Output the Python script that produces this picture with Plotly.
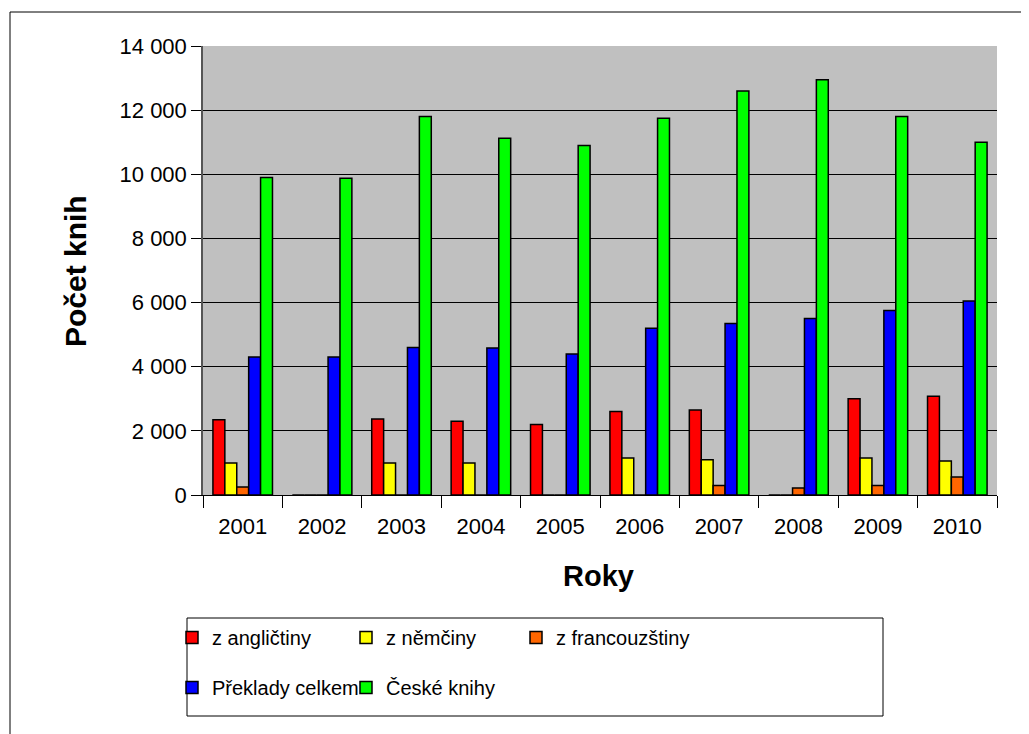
import plotly.graph_objects as go

years = ["2001", "2002", "2003", "2004", "2005", "2006", "2007", "2008", "2009", "2010"]

z_anglictiny = [2350, 0, 2370, 2300, 2200, 2600, 2650, 0, 3000, 3080]
z_nemciny = [1000, 0, 1000, 1000, 0, 1150, 1100, 0, 1150, 1060]
z_francouzstiny = [250, 0, 0, 0, 0, 0, 300, 220, 300, 560]
preklady_celkem = [4300, 4300, 4600, 4580, 4400, 5200, 5350, 5500, 5750, 6050]
ceske_knihy = [9900, 9880, 11800, 11120, 10900, 11750, 12600, 12950, 11800, 11000]

y_ticks = [0, 2000, 4000, 6000, 8000, 10000, 12000, 14000]
y_tick_labels = ["0", "2 000", "4 000", "6 000", "8 000", "10 000", "12 000", "14 000"]

# legend is laid out as three columns: legend / legend2 / legend3
series = [
    ("z angličtiny", z_anglictiny, "#FF0000", "legend"),
    ("z němčiny", z_nemciny, "#FFFF00", "legend2"),
    ("z francouzštiny", z_francouzstiny, "#FF6600", "legend3"),
    ("Překlady celkem", preklady_celkem, "#0000FF", "legend"),
    ("České knihy", ceske_knihy, "#00FF00", "legend2"),
]

FONT = "Liberation Sans, Arial, sans-serif"

fig = go.Figure()
for name, vals, color, leg in series:
    fig.add_trace(go.Bar(
        x=years, y=vals, name=name, legend=leg, legendgroup=name,
        marker=dict(color=color, line=dict(color="black", width=1.5)),
    ))

# plot area is 794 x 449 px; page body adds an 8px margin
W, H = 1021, 726
L, T, PW, PH = 195, 38, 794, 449


def px_x(x):
    # reference-pixel x -> paper x
    return (x - 203) / PW


def px_y(y):
    # reference-pixel y -> paper y
    return (495 - y) / PH


legend_common = dict(
    orientation="v", xanchor="left", yanchor="top",
    font=dict(size=20), bgcolor="rgba(0,0,0,0)", tracegroupgap=21,
)

fig.update_layout(
    width=W, height=H,
    margin=dict(l=L, r=W - L - PW, t=T, b=H - T - PH),
    paper_bgcolor="white",
    plot_bgcolor="#C0C0C0",
    font=dict(family=FONT, size=22, color="black"),
    barmode="group",
    bargap=0.25,
    bargroupgap=0,
    showlegend=True,
    legend=dict(x=px_x(172), y=px_y(618), **legend_common),
    legend2=dict(x=px_x(346), y=px_y(618), **legend_common),
    legend3=dict(x=px_x(516), y=px_y(618), **legend_common),
)

fig.update_yaxes(
    range=[0, 14000],
    tickvals=y_ticks, ticktext=y_tick_labels,
    showgrid=True, gridcolor="black", gridwidth=1,
    showline=True, linecolor="#555555", linewidth=1.5,
    ticks="outside", ticklen=10, tickcolor="black",
    zeroline=False,
)
fig.update_xaxes(
    showline=True, linecolor="black", linewidth=1,
    ticks="outside", tickson="boundaries", ticklen=12, tickcolor="black",
    ticklabelstandoff=12,
    showgrid=False,
)

# axis titles
fig.add_annotation(text="<b>Počet knih</b>", x=px_x(75), y=px_y(271), xref="paper", yref="paper",
                   xanchor="center", yanchor="middle",
                   textangle=-90, showarrow=False, font=dict(size=30, family=FONT))
fig.add_annotation(text="<b>Roky</b>", x=px_x(598), y=px_y(576), xref="paper", yref="paper",
                   xanchor="center", yanchor="middle",
                   showarrow=False, font=dict(size=29, family=FONT))

# outer chart frame and legend box
fig.add_shape(type="rect", xref="paper", yref="paper",
              x0=px_x(10), x1=px_x(1040), y0=px_y(745), y1=px_y(12),
              line=dict(color="black", width=1), layer="below")
fig.add_shape(type="rect", xref="paper", yref="paper",
              x0=px_x(187), x1=px_x(883), y0=px_y(716), y1=px_y(618),
              line=dict(color="black", width=1))

fig.write_html("out.html")
